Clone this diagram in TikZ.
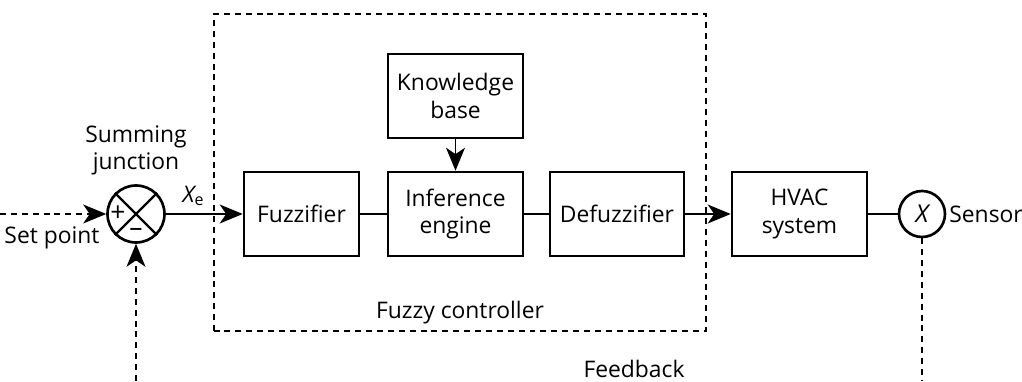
\documentclass[tikz,border=0pt]{standalone}
\usepackage{fontspec}
\setmainfont{Open Sans}
\usetikzlibrary{arrows.meta}

\begin{document}
\begin{tikzpicture}[
    font=\fontsize{13}{15.5}\selectfont,
    block/.style={draw,line width=1.5pt,minimum height=1.68cm,align=center,inner sep=2pt},
    wire/.style={line width=0.75pt},
    tip/.style={-{Stealth[length=0.46cm,width=0.38cm,inset=0.13cm]}},
    arrow/.style={wire,tip},
    dashline/.style={line width=0.65pt,dash pattern=on 3.4pt off 2.8pt}
  ]
  \useasboundingbox (0,0) rectangle (20.44,7.62);

  % fuzzy controller frame
  \draw[dashline] (4.28,1.00) rectangle (14.12,7.34);
  \node (fc label) at (9.2,1.36) {Fuzzy controller};

  % blocks
  \node[block,minimum width=2.7cm] (kb) at (9.11,5.70) {Knowledge\\base};
  \node[block,minimum width=2.3cm] (fuzz) at (6.03,3.34) {Fuzzifier};
  \node[block,minimum width=2.7cm] (inf) at (9.11,3.34) {Inference\\engine};
  \node[block,minimum width=2.68cm] (defuzz) at (12.34,3.34) {Defuzzifier};
  \node[block,minimum width=2.7cm] (hvac) at (15.99,3.34) {HVAC\\system};

  % summing junction
  \node[draw,circle,line width=1.5pt,minimum size=1.14cm,inner sep=0pt] (sum) at (2.72,3.34) {};
  \draw[line width=1.3pt] (sum.north west) -- (sum.south east);
  \draw[line width=1.3pt] (sum.north east) -- (sum.south west);
  \node[font=\fontsize{15}{17}\selectfont] (plus) at (2.36,3.34) {+};
  \node[font=\fontsize{15}{17}\selectfont] (minus) at (2.72,2.98) {–};
  \node[align=center] (sum label) at (2.72,4.62) {Summing\\junction};

  % sensor
  \node[draw,circle,line width=1.5pt,minimum size=0.92cm,inner sep=0pt,font=\fontsize{14}{16}\selectfont] (sensor) at (18.44,3.34) {\itshape X};
  \node[anchor=west,inner sep=0pt] (sensor label) at (18.98,3.34) {Sensor};

  \coordinate (set in) at (0,3.34);
  \coordinate (fb left) at (2.72,0);
  \coordinate (fb right) at (18.44,0);

  % signal path
  \draw[dashline,tip] (set in) -- (sum.west);
  \node (set label) at (1.04,2.86) {Set point};
  \draw[arrow] (sum.east) -- (fuzz.west) node[pos=0.36,above=1pt] {{\itshape X}\textsubscript{e}};
  \draw[wire] (fuzz) -- (inf);
  \draw[arrow] (kb) -- (inf);
  \draw[wire] (inf) -- (defuzz);
  \draw[arrow] (defuzz) -- (hvac);
  \draw[wire] (hvac) -- (sensor);

  % feedback loop
  \draw[dashline] (sensor.south) -- (fb right);
  \draw[dashline,tip] (fb left) -- (sum.south);
  \node (fb label) at (12.68,0.24) {Feedback};
\end{tikzpicture}
\end{document}
